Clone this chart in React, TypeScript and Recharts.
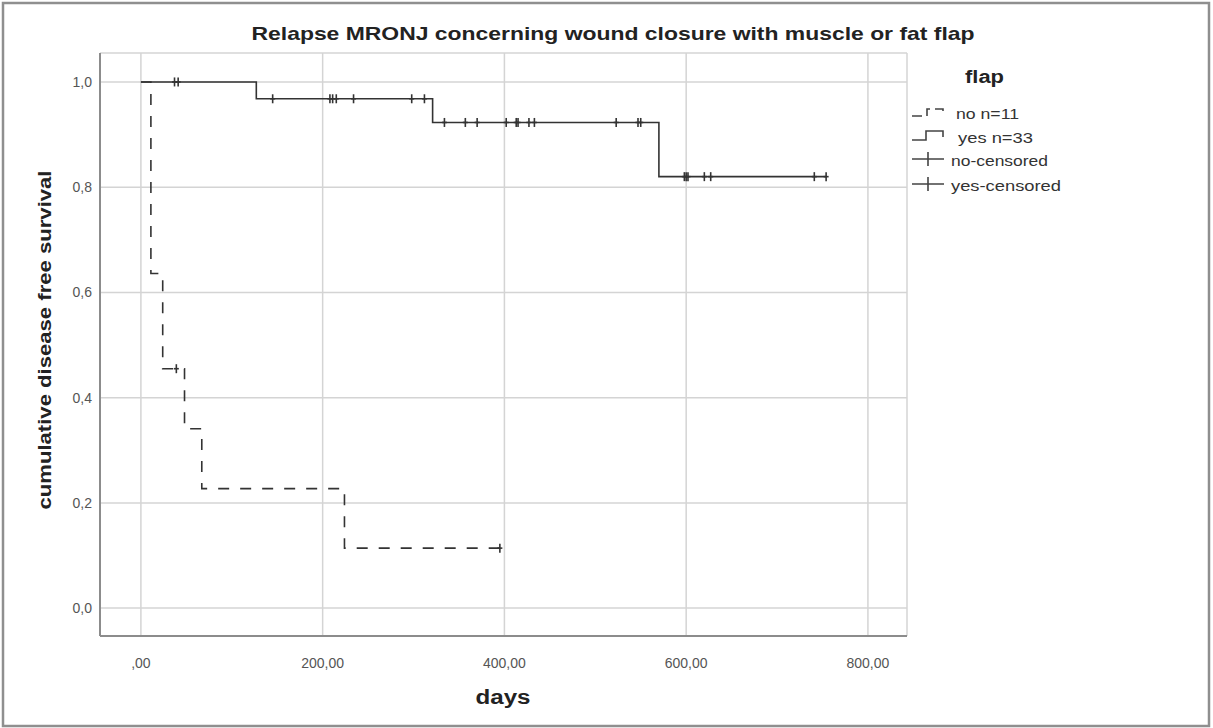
import React from 'react';
import { ComposedChart, Line, Scatter, XAxis, YAxis, CartesianGrid } from 'recharts';

// step points of the Kaplan-Meier curves
const noDays = [0, 11, 24, 48, 67, 224, 395];
const noSurv = [1, 0.636, 0.455, 0.341, 0.227, 0.114, 0.114];
const yesDays = [0, 127, 321, 570, 754];
const yesSurv = [1, 0.968, 0.923, 0.82, 0.82];

// censored observations
const noCensDays = [39, 395];
const noCensSurv = [0.455, 0.114];
const yesCensDays = [37, 41, 145, 208, 211, 215, 234, 298, 312, 334, 357, 370, 402, 413, 415, 427, 433, 523, 547, 550, 598, 600, 602, 620, 627, 741, 754];
const yesCensSurv = [1, 1, 0.968, 0.968, 0.968, 0.968, 0.968, 0.968, 0.968, 0.923, 0.923, 0.923, 0.923, 0.923, 0.923, 0.923, 0.923, 0.923, 0.923, 0.923, 0.82, 0.82, 0.82, 0.82, 0.82, 0.82, 0.82];

const xTicks = [0, 200, 400, 600, 800];
const yTicks = [0, 0.2, 0.4, 0.6, 0.8, 1];

const title = 'Relapse MRONJ concerning wound closure with muscle or fat flap';
const yLabel = 'cumulative disease free survival';
const xLabel = 'days';
const legendTitle = 'flap';
const legendItems = ['no n=11', 'yes n=33', 'no-censored', 'yes-censored'];

const FONT = '"Liberation Sans", Arial, sans-serif';
const INK = '#333';

const toRows = (days: number[], surv: number[]) => days.map((d, i) => ({ day: d, s: surv[i] }));

const noData = toRows(noDays, noSurv);
const yesData = toRows(yesDays, yesSurv);
const noCens = toRows(noCensDays, noCensSurv);
const yesCens = toRows(yesCensDays, yesCensSurv);

const CensorMark = (props: any) => {
    const { cx, cy } = props;
    if (cx == null || cy == null) return null;
    return (
        <g stroke={INK} strokeWidth={1.6}>
            <line x1={cx} y1={cy - 4.5} x2={cx} y2={cy + 4.5} />
            <line x1={cx - 2.5} y1={cy} x2={cx + 2.5} y2={cy} />
        </g>
    );
};

const fmtY = (v: number) => v.toFixed(1).replace('.', ',');
const fmtX = (v: number) => (v === 0 ? ',00' : v.toFixed(2).replace('.', ','));

export default function App() {
    return (
        <div style={{ position: 'relative', width: 1213, height: 728, background: '#fff' }}>
            <style>{'body{margin:0;}'}</style>
            <ComposedChart width={1213} height={728} margin={{ top: 53, right: 306, bottom: 0, left: 0 }}>
                <CartesianGrid stroke="#d4d4d4" strokeWidth={1.5} />
                <XAxis
                    type="number"
                    dataKey="day"
                    domain={[-45, 843]}
                    allowDataOverflow
                    ticks={xTicks}
                    tickFormatter={fmtX}
                    height={92}
                    tickLine={false}
                    tickMargin={16}
                    axisLine={{ stroke: '#8c8c8c', strokeWidth: 2 }}
                    tick={{ fontSize: 14, fill: '#555', fontFamily: FONT }}
                />
                <YAxis
                    type="number"
                    domain={[-0.053, 1.055]}
                    allowDataOverflow
                    ticks={yTicks}
                    tickFormatter={fmtY}
                    width={100}
                    tickLine={false}
                    axisLine={{ stroke: '#8c8c8c', strokeWidth: 2 }}
                    tick={{ fontSize: 14, fill: '#555', fontFamily: FONT }}
                />
                <Line data={yesData} dataKey="s" type="stepAfter" stroke={INK} strokeWidth={1.6} dot={false} isAnimationActive={false} />
                <Line data={noData} dataKey="s" type="stepAfter" stroke={INK} strokeWidth={1.6} strokeDasharray="11 11" dot={false} isAnimationActive={false} />
                <Scatter data={yesCens} dataKey="s" shape={<CensorMark />} isAnimationActive={false} />
                <Scatter data={noCens} dataKey="s" shape={<CensorMark />} isAnimationActive={false} />
            </ComposedChart>
            <svg width={1213} height={728} style={{ position: 'absolute', left: 0, top: 0, pointerEvents: 'none' }} fontFamily={FONT}>
                <rect x={3} y={3} width={1206} height={723} fill="none" stroke="#8f8f8f" strokeWidth={2.5} />
                <text x={613} y={40} textAnchor="middle" fontSize={19} fontWeight="bold" fill="#222" textLength={723} lengthAdjust="spacingAndGlyphs">{title}</text>
                <text x={44} y={340} transform="rotate(-90 44 340)" textAnchor="middle" dominantBaseline="central" fontSize={19} fontWeight="bold" fill="#222" textLength={339} lengthAdjust="spacingAndGlyphs">{yLabel}</text>
                <text x={503} y={697} textAnchor="middle" dominantBaseline="central" fontSize={20} fontWeight="bold" fill="#222" textLength={55} lengthAdjust="spacingAndGlyphs">{xLabel}</text>
                <text x={965} y={77} dominantBaseline="central" fontSize={18} fontWeight="bold" fill="#222" textLength={39} lengthAdjust="spacingAndGlyphs">{legendTitle}</text>
                <g fill="none" stroke="#444" strokeWidth={1.6}>
                    <path d="M912 116 H927 V109 H943 V115" strokeDasharray="10 5" />
                    <path d="M912 140 H926 V131 H943 V137" />
                    <path d="M912 159 H944 M928 152 V166" />
                    <path d="M912 184 H944 M928 177 V191" />
                </g>
                <text x={956} y={113} dominantBaseline="central" fontSize={15} fill={INK} textLength={63} lengthAdjust="spacingAndGlyphs">{legendItems[0]}</text>
                <text x={958} y={137} dominantBaseline="central" fontSize={15} fill={INK} textLength={75} lengthAdjust="spacingAndGlyphs">{legendItems[1]}</text>
                <text x={951} y={160} dominantBaseline="central" fontSize={15} fill={INK} textLength={97} lengthAdjust="spacingAndGlyphs">{legendItems[2]}</text>
                <text x={951} y={185} dominantBaseline="central" fontSize={15} fill={INK} textLength={110} lengthAdjust="spacingAndGlyphs">{legendItems[3]}</text>
            </svg>
        </div>
    );
}
